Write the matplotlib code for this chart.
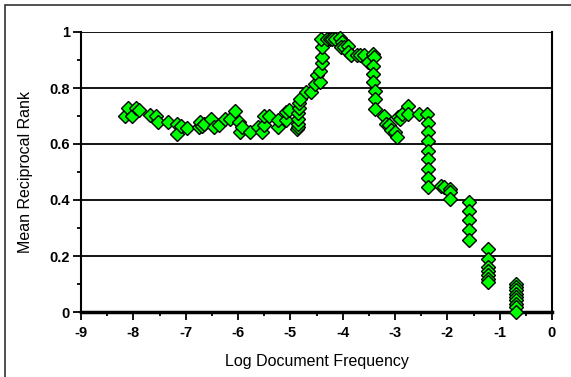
import matplotlib
matplotlib.use("Agg")
import matplotlib.pyplot as plt
from matplotlib.patches import Rectangle
from matplotlib.ticker import MultipleLocator, FuncFormatter

log_df = [-8.15, -8.1, -8.02, -7.95, -7.9, -7.69, -7.57, -7.52, -7.33, -7.16,
          -7.16, -7.09, -6.98, -6.75, -6.72, -6.68, -6.65, -6.51, -6.46, -6.37,
          -6.25, -6.16, -6.06, -5.99, -5.96, -5.92, -5.78, -5.61, -5.55, -5.5,
          -5.5, -5.4, -5.23, -5.23, -5.09, -5.09, -5.02, -4.87, -4.86, -4.86,
          -4.85, -4.85, -4.84, -4.83, -4.81, -4.71, -4.6, -4.53, -4.5, -4.44,
          -4.43, -4.4, -4.4, -4.4, -4.41, -4.3, -4.25, -4.2, -4.15, -4.05,
          -4.01, -4.04, -3.97, -3.89, -3.9, -3.84, -3.73, -3.67, -3.6, -3.52,
          -3.42, -3.41, -3.42, -3.42, -3.42, -3.38, -3.38, -3.38, -3.21, -3.18,
          -3.11, -3.07, -3.0, -2.97, -2.95, -2.9, -2.86, -2.76, -2.75, -2.55,
          -2.38, -2.36, -2.36, -2.36, -2.36, -2.36, -2.36, -2.36, -2.36, -2.13,
          -2.06, -1.95, -1.95, -1.95, -1.58, -1.58, -1.58, -1.58, -1.58, -1.23,
          -1.23, -1.23, -1.23, -1.23, -1.23, -1.23, -0.69, -0.69, -0.69, -0.69,
          -0.69, -0.69, -0.69, -0.69, -0.69]
mrr = [0.70, 0.73, 0.70, 0.73, 0.72, 0.705, 0.70, 0.68, 0.68, 0.67,
       0.635, 0.665, 0.657, 0.66, 0.68, 0.665, 0.67, 0.69, 0.66, 0.667,
       0.69, 0.69, 0.718, 0.68, 0.643, 0.66, 0.643, 0.66, 0.643, 0.667,
       0.70, 0.70, 0.66, 0.685, 0.685, 0.714, 0.72, 0.655, 0.66, 0.67,
       0.69, 0.71, 0.73, 0.745, 0.76, 0.786, 0.786, 0.815, 0.845, 0.82,
       0.86, 0.89, 0.91, 0.946, 0.976, 0.975, 0.975, 0.975, 0.975, 0.98,
       0.965, 0.946, 0.945, 0.95, 0.93, 0.917, 0.917, 0.917, 0.917, 0.893,
       0.92, 0.91, 0.88, 0.85, 0.82, 0.79, 0.76, 0.726, 0.70, 0.67,
       0.667, 0.65, 0.643, 0.625, 0.696, 0.69, 0.708, 0.735, 0.708, 0.708,
       0.708, 0.675, 0.642, 0.61, 0.576, 0.545, 0.511, 0.479, 0.446, 0.449,
       0.446, 0.44, 0.43, 0.405, 0.393, 0.36, 0.327, 0.294, 0.258, 0.226,
       0.19, 0.16, 0.146, 0.131, 0.119, 0.107, 0.10, 0.089, 0.077, 0.065,
       0.054, 0.042, 0.03, 0.018, 0.0]

plt.rcParams['font.family'] = ['Liberation Sans', 'DejaVu Sans']

fig = plt.figure(figsize=(5.71, 3.77), dpi=100)
ax = fig.add_axes([81/571, 1-312/377, (552-81)/571, (312-32)/377])

fig.patches.append(Rectangle((5/571, -0.1), 1.2, 1 - 5/377 + 0.1,
                             transform=fig.transFigure, fill=False,
                             edgecolor='#333333', lw=1.2))

for yv in [0.2, 0.4, 0.6, 0.8, 1.0]:
    ax.axhline(yv, color='black', lw=1.3, zorder=1)

ax.plot(log_df, mrr, linestyle='none', marker='D', markersize=7,
        markerfacecolor='#00ff00', markeredgecolor='black',
        markeredgewidth=1.0, zorder=3, clip_on=False)

ax.set_xlim(-9, 0)
ax.set_ylim(0, 1)
ax.xaxis.set_major_locator(MultipleLocator(1))
ax.xaxis.set_minor_locator(MultipleLocator(0.5))
ax.yaxis.set_major_locator(MultipleLocator(0.2))
ax.yaxis.set_minor_locator(MultipleLocator(0.1))
fmt = FuncFormatter(lambda v, p: "%g" % round(v, 2))
ax.xaxis.set_major_formatter(fmt)
ax.yaxis.set_major_formatter(fmt)

ax.tick_params(which='major', direction='out', length=6, width=1.3,
               labelsize=10.5)
ax.tick_params(which='minor', direction='out', length=3, width=1.3)
for lab in ax.get_xticklabels() + ax.get_yticklabels():
    lab.set_fontweight('bold')
ax.tick_params(axis='x', pad=4)
ax.tick_params(axis='y', pad=2)

for s in ['left', 'right', 'top']:
    ax.spines[s].set_linewidth(1.5)
ax.spines['bottom'].set_linewidth(2.5)
ax.spines['top'].set_visible(False)

ax.set_xlabel("Log Document Frequency", fontsize=11.5, labelpad=10)
ax.set_ylabel("Mean Reciprocal Rank", fontsize=11.5, labelpad=12)

fig.savefig("out.png", dpi=100)
